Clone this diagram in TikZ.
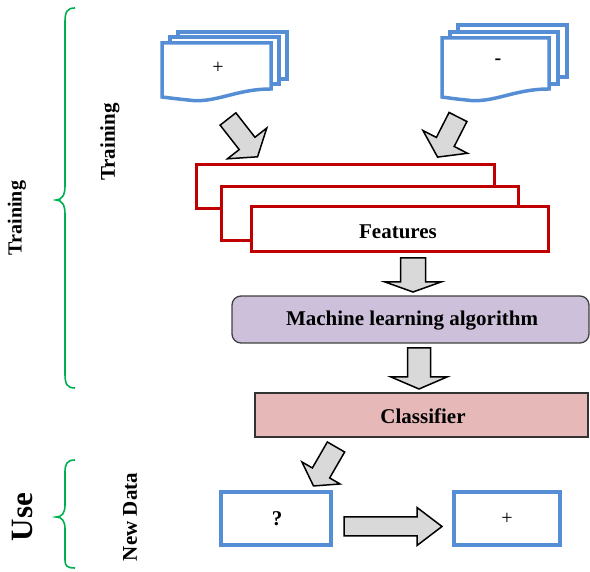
\documentclass[tikz,border=0pt]{standalone}
\usepackage{fontspec}
\setmainfont{Liberation Serif}
\definecolor{docblue}{HTML}{558ED5}
\definecolor{featred}{HTML}{C00000}
\definecolor{mlpurple}{HTML}{CCC0DA}
\definecolor{clspink}{HTML}{E6B8B7}
\definecolor{bracegreen}{HTML}{00B050}
\definecolor{arrowgray}{HTML}{D9D9D9}
\tikzset{
  docpage/.style={draw=docblue, line width=3.5pt, fill=white, line join=miter},
  featbox/.style={draw=featred, line width=3pt, fill=white},
  bluebox/.style={draw=docblue, line width=3.5pt, fill=white},
  blockarr/.style={draw=black, line width=1.5pt, fill=arrowgray, line join=miter},
  bracestyle/.style={draw=bracegreen, line width=1.6pt},
  lbl/.style={font=\bfseries\fontsize{21}{25}\selectfont, inner sep=0pt},
  sym/.style={font=\fontsize{20}{24}\selectfont, inner sep=0pt},
}
\newcommand\blockarrow[7]{%
  \begin{scope}[shift={#2}, rotate=#3]
    \draw[blockarr] (0,-#5) -- ({#4-#7},-#5) -- ({#4-#7},-#6) -- (#4,0) coordinate (#1) -- ({#4-#7},#6) -- ({#4-#7},#5) -- (0,#5) -- cycle;
  \end{scope}}
\begin{document}
\begin{tikzpicture}[x=1pt,y=1pt]
\useasboundingbox (0,0) rectangle (590,572);

% left document stack
\draw[docpage] (178,540) rectangle (287,493);
\draw[docpage] (170,535) rectangle (279,488);
\draw[docpage] (162,529) -- (271,529) -- (271,483) .. controls (235,483) and (215,468) .. (188,472) .. controls (178,473) and (170,474) .. (162,475) -- cycle;
\node[sym] (plus1) at (218,504) {+};

% right document stack
\draw[docpage] (458,547) rectangle (567,495);
\draw[docpage] (450,540) rectangle (558,488);
\draw[docpage] (442,534) -- (549,534) -- (549,483) .. controls (513,483) and (493,468) .. (466,472) .. controls (456,473) and (449,474) .. (442,475) -- cycle;
\node[sym, font=\bfseries\fontsize{20}{24}\selectfont] (minus1) at (498,510) {-};

% arrows from documents
\blockarrow{a1tip}{(228,453)}{-52}{48}{10}{25}{17}
\blockarrow{a2tip}{(458,455)}{-117}{45}{10}{25}{17}

% features
\draw[featbox] (196,407) rectangle (494,363);
\draw[featbox] (221,385) rectangle (518,331);
\draw[featbox] (251,365) rectangle (548,320);
\node[lbl] (feat) at (398,340) {Features};

\blockarrow{a3tip}{(413,314)}{-90}{34}{12.5}{28}{10}

% machine learning
\draw[draw=black!75, line width=1.3pt, fill=mlpurple, rounded corners=9pt] (232,276) rectangle (589,229);
\node[lbl] (ml) at (412,251) {Machine learning algorithm};

\blockarrow{a4tip}{(419,224)}{-90}{41}{11.5}{28}{12}

% classifier
\draw[draw=black!80, line width=1.3pt, fill=clspink] (255,179) rectangle (588,135);
\node[lbl] (cls) at (423,156) {Classifier};

\blockarrow{a5tip}{(336,125)}{-120}{45}{10}{22}{15}

% new data boxes
\draw[bluebox] (221,80) rectangle (331,27);
\node[lbl] (q) at (277,53) {?};
\draw[bluebox] (454,80) rectangle (560,27);
\node[sym] (plus2) at (507,53) {+};
\blockarrow{a6tip}{(344,45.5)}{0}{98}{9.5}{19}{25}

% braces
\draw[bracestyle] (75,564) .. controls (67,564) and (65,560) .. (65,550) -- (65,386)
  .. controls (65,377) and (62,372) .. (56,372) .. controls (62,372) and (65,367) .. (65,358)
  -- (65,198) .. controls (65,188) and (67,184) .. (75,184);
\draw[bracestyle] (75,112) .. controls (67,112) and (65,108) .. (65,100) -- (65,67)
  .. controls (65,59) and (62,55) .. (56,55) .. controls (62,55) and (65,51) .. (65,43)
  -- (65,12) .. controls (65,6) and (67,4) .. (75,4);

% side labels
\node[lbl, rotate=90, font=\bfseries\fontsize{20}{24}\selectfont] (train1) at (17,354) {Training};
\node[lbl, rotate=90] (train2) at (110,430) {Training};
\node[lbl, rotate=90, font=\bfseries\fontsize{31}{36}\selectfont] (use) at (23,55) {Use};
\node[lbl, rotate=90] (newdata) at (130,55) {New Data};
\end{tikzpicture}
\end{document}
